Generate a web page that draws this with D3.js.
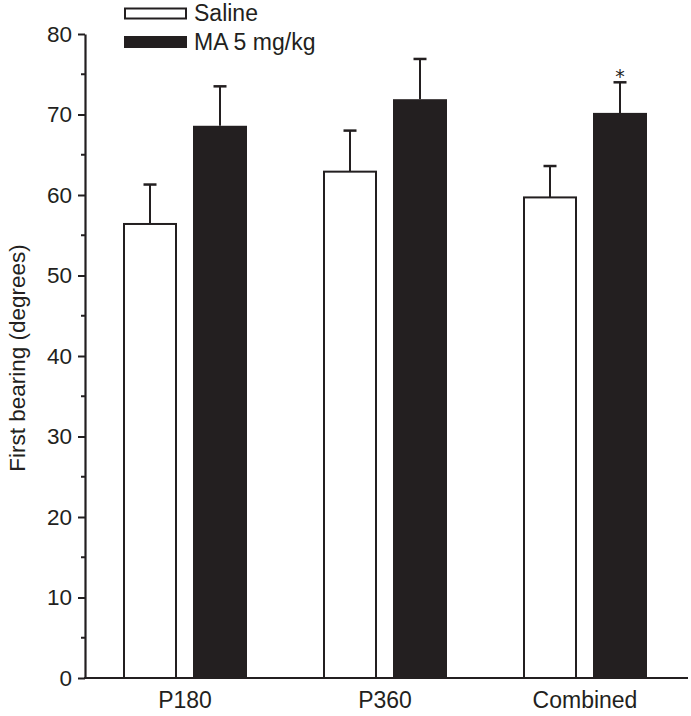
<!DOCTYPE html>
<html>
<head>
<meta charset="utf-8">
<script src="https://cdn.jsdelivr.net/npm/d3@7/dist/d3.min.js"></script>
<style>
  html, body { margin: 0; padding: 0; background: #fff; }
  svg { display: block; font-family: "Liberation Sans", Arial, Helvetica, sans-serif; }
</style>
</head>
<body>
<svg id="chart" width="691" height="716"></svg>
<script>
const categories = ["P180", "P360", "Combined"];
const seriesNames = ["Saline", "MA 5 mg/kg"];
const salineValues = [56.4, 62.9, 59.7];
const salineSEM = [4.9, 5.1, 3.9];
const maValues = [68.6, 71.9, 70.2];
const maSEM = [4.9, 5.0, 3.8];
const significant = [false, false, true];
const yTicks = [0, 10, 20, 30, 40, 50, 60, 70, 80];
const yMinorTicks = [5, 15, 25, 35, 45, 55, 65, 75];
const yLabel = "First bearing (degrees)";

const ink = "#231f20";
const svg = d3.select("#chart");

const y = d3.scaleLinear().domain([0, 80]).range([678, 34]);
const x0 = d3.scaleBand().domain(categories).range([85, 685]).paddingInner(0).paddingOuter(0);
const x1 = d3.scaleBand().domain(seriesNames).range([38, 162]).paddingInner(16 / 70).paddingOuter(0);

const data = categories.map((c, i) => ({
  cat: c,
  bars: [
    { s: seriesNames[0], v: salineValues[i], e: salineSEM[i], sig: false },
    { s: seriesNames[1], v: maValues[i], e: maSEM[i], sig: significant[i] }
  ]
}));

const groups = svg.append("g").selectAll("g").data(data).join("g")
  .attr("transform", d => `translate(${x0(d.cat)},0)`);

const bw = x1.bandwidth();

groups.selectAll("g.err").data(d => d.bars).join("g").attr("class", "err")
  .each(function(b) {
    const g = d3.select(this);
    const cx = x1(b.s) + bw / 2;
    g.append("line").attr("x1", cx).attr("x2", cx)
      .attr("y1", y(b.v)).attr("y2", y(b.v + b.e))
      .attr("stroke", ink).attr("stroke-width", 2);
    g.append("line").attr("x1", cx - 6.5).attr("x2", cx + 6.5)
      .attr("y1", y(b.v + b.e)).attr("y2", y(b.v + b.e))
      .attr("stroke", ink).attr("stroke-width", 2.5);
    if (b.sig) {
      g.append("text").attr("x", cx).attr("y", y(b.v + b.e) + 0.5)
        .attr("text-anchor", "middle")
        .attr("font-family", "DejaVu Sans, sans-serif")
        .attr("font-size", 19).attr("fill", ink).text("*");
    }
  });

groups.selectAll("rect").data(d => d.bars).join("rect")
  .attr("x", b => b.s === seriesNames[0] ? x1(b.s) + 1 : x1(b.s))
  .attr("width", b => b.s === seriesNames[0] ? bw - 2 : bw)
  .attr("y", b => y(b.v))
  .attr("height", b => y(0) - y(b.v))
  .attr("fill", b => b.s === seriesNames[0] ? "#fff" : ink)
  .attr("stroke", b => b.s === seriesNames[0] ? ink : "none")
  .attr("stroke-width", 2);

const yAxis = d3.axisLeft(y).tickValues(yTicks).tickSize(7).tickPadding(6).tickSizeOuter(0);
const ya = svg.append("g").attr("transform", "translate(85,0)").call(yAxis);
ya.select(".domain").attr("stroke", ink).attr("stroke-width", 2.2);
ya.selectAll(".tick line").attr("stroke", ink).attr("stroke-width", 2);
ya.selectAll(".tick text").attr("font-size", 22.5).attr("fill", ink)
  .attr("font-family", "Liberation Sans, Arial, sans-serif");
svg.append("g").attr("transform", "translate(85,0)").selectAll("line").data(yMinorTicks).join("line")
  .attr("x1", -4).attr("x2", 0).attr("y1", d => y(d)).attr("y2", d => y(d))
  .attr("stroke", ink).attr("stroke-width", 2);

const xa = svg.append("g").attr("transform", `translate(0,${y(0)})`);
xa.append("line").attr("x1", 84).attr("x2", 688).attr("y1", 0).attr("y2", 0)
  .attr("stroke", ink).attr("stroke-width", 2.2);
xa.selectAll("text").data(categories).join("text")
  .attr("x", c => x0(c) + x0.bandwidth() / 2).attr("y", 30)
  .attr("text-anchor", "middle").attr("font-size", 23).attr("fill", ink).text(c => c);

svg.append("text").attr("transform", "translate(25,358) rotate(-90)")
  .attr("text-anchor", "middle").attr("font-size", 22.5).attr("fill", ink).text(yLabel);

const legend = svg.append("g");
seriesNames.forEach((s, i) => {
  legend.append("rect").attr("x", i === 0 ? 125 : 124).attr("y", i === 0 ? 8.5 : 36)
    .attr("width", i === 0 ? 61 : 63).attr("height", i === 0 ? 10 : 12)
    .attr("fill", i === 0 ? "#fff" : ink)
    .attr("stroke", i === 0 ? ink : "none").attr("stroke-width", 2);
  legend.append("text").attr("x", 194).attr("y", i === 0 ? 21 : 50)
    .attr("font-size", 23).attr("fill", ink).text(s);
});
</script>
</body>
</html>
